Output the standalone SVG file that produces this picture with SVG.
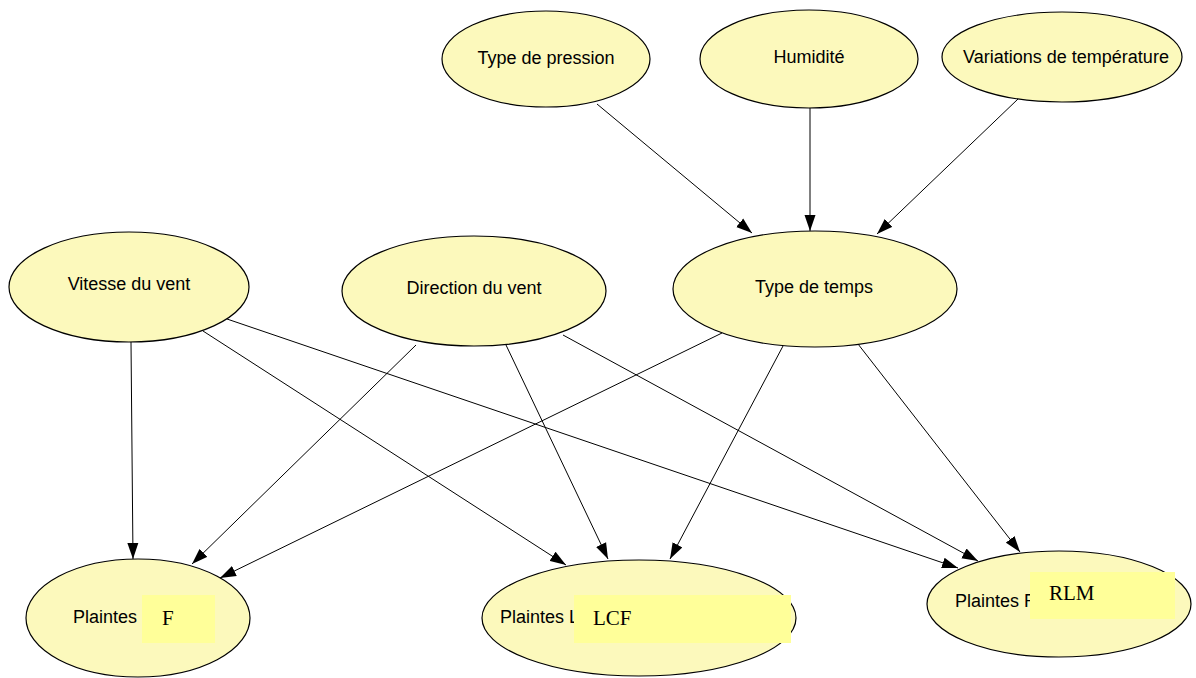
<svg xmlns="http://www.w3.org/2000/svg" width="1196" height="678" viewBox="0 0 1196 678">
<style>
.node ellipse{fill:#FCF9BC;stroke:#000;stroke-width:1.2}
.lbl{font-family:"Liberation Sans",Arial,sans-serif;font-size:18px;fill:#000}
.mid{text-anchor:middle}
.box{fill:#FFFF99}
.ser{font-family:"Liberation Serif","Times New Roman",serif;font-size:21px;fill:#000}
.edges line{stroke:#000;stroke-width:1;marker-end:url(#ah)}
</style>
<defs>
<marker id="ah" markerUnits="userSpaceOnUse" markerWidth="17" markerHeight="12" refX="16" refY="6" orient="auto">
<path d="M0,0.5 L16,6 L0,11.5 z" fill="#000"/>
</marker>
</defs>
<rect width="1196" height="678" fill="#fff"/>
<g class="edges">
<line x1="597" y1="104" x2="752" y2="233"/>
<line x1="810" y1="108" x2="810" y2="231"/>
<line x1="1018" y1="99" x2="877" y2="234"/>
<line x1="131" y1="342" x2="133" y2="559"/>
<line x1="203" y1="331" x2="566" y2="565"/>
<line x1="227" y1="319" x2="958" y2="568"/>
<line x1="416" y1="345" x2="192" y2="564"/>
<line x1="506" y1="345" x2="608" y2="559"/>
<line x1="563" y1="335" x2="978" y2="561"/>
<line x1="722" y1="333" x2="220" y2="578"/>
<line x1="783" y1="346" x2="670" y2="559"/>
<line x1="858" y1="344" x2="1020" y2="552"/>
</g>
<g id="type-pression" class="node"><ellipse cx="546" cy="59" rx="104" ry="48"/><text class="lbl mid" x="546" y="64">Type de pression</text></g>
<g id="humidite" class="node"><ellipse cx="809" cy="59" rx="109" ry="49"/><text class="lbl mid" x="809" y="63">Humidité</text></g>
<g id="variations" class="node"><ellipse cx="1062" cy="57" rx="120" ry="45"/><text class="lbl mid" x="1066" y="63">Variations de température</text></g>
<g id="vitesse" class="node"><ellipse cx="129" cy="287" rx="120" ry="55"/><text class="lbl mid" x="129" y="290">Vitesse du vent</text></g>
<g id="direction" class="node"><ellipse cx="474" cy="291" rx="132" ry="55"/><text class="lbl mid" x="474" y="294">Direction du vent</text></g>
<g id="type-temps" class="node"><ellipse cx="815" cy="289" rx="142" ry="58"/><text class="lbl mid" x="814" y="293">Type de temps</text></g>
<g id="plaintes-f" class="node"><ellipse cx="138" cy="618" rx="112" ry="59"/><text class="lbl" x="73" y="623">Plaintes</text><rect class="box" x="142" y="595" width="73" height="48"/><text class="ser" x="162" y="625">F</text></g>
<g id="plaintes-lcf" class="node"><ellipse cx="639" cy="618" rx="157" ry="58"/><text class="lbl" x="500" y="623">Plaintes L</text><rect class="box" x="574" y="595" width="217" height="48"/><text class="ser" x="593" y="625">LCF</text></g>
<g id="plaintes-rlm" class="node"><ellipse cx="1059" cy="604" rx="132" ry="53"/><text class="lbl" x="955" y="607">Plaintes R</text><rect class="box" x="1030" y="572" width="145" height="47"/><text class="ser" x="1049" y="600">RLM</text></g>
</svg>
